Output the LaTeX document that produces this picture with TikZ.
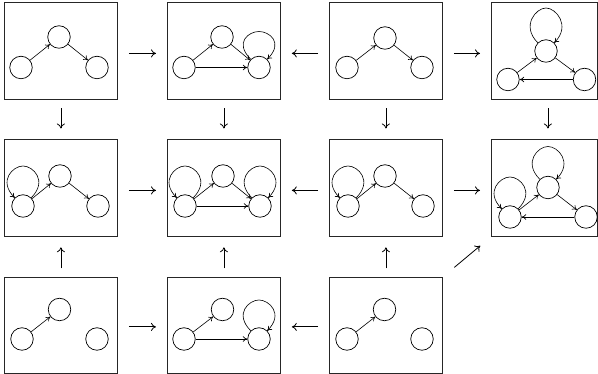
\documentclass[tikz,border=0pt]{standalone}
\usetikzlibrary{arrows.meta}
\tikzset{
  frame/.style={draw=black!85, line width=0.8pt, minimum width=113pt, minimum height=97pt, inner sep=0pt, anchor=north west},
  st/.style={circle, draw, line width=0.7pt, minimum size=22.5pt, inner sep=0pt},
  edge/.style={-{To[length=4.5pt,width=5.5pt]}, line width=0.6pt},
  big/.style={-{To[length=5pt,width=8pt]}, line width=0.8pt, shorten <=11pt, shorten >=11pt},
  bigv/.style={-{To[length=5pt,width=8pt]}, line width=0.8pt, shorten <=8.5pt, shorten >=10.5pt},
}
% loop ending on the right side (arrow at right); #2 = height of the top above the centre
\newcommand\selfright[2]{\draw[edge] (#1.135) .. controls +(-17,17) and +(-10,0) .. ([yshift=#2pt]#1.center) .. controls +(10,0) and +(17,17) .. (#1.45);}
% loop ending on the left side (arrow at left)
\newcommand\selfleft[2]{\draw[edge] (#1.45) .. controls +(17,17) and +(10,0) .. ([yshift=#2pt]#1.center) .. controls +(-10,0) and +(-17,17) .. (#1.135);}
\begin{document}
\begin{tikzpicture}[x=1pt,y=1pt]
\useasboundingbox (0,0) rectangle (598,374);
% ---------- row 1 ----------
\begin{scope}[shift={(4,372)}]
  \node[frame] (b11) at (0,0) {};
  \node[st] (L11) at (17,-65.5) {};
  \node[st] (T11) at (55,-35) {};
  \node[st] (R11) at (93,-65.5) {};
  \draw[edge] (L11) -- (T11);
  \draw[edge] (T11) -- (R11);
\end{scope}
\begin{scope}[shift={(167,372)}]
  \node[frame] (b12) at (0,0) {};
  \node[st] (L12) at (17,-65.5) {};
  \node[st] (T12) at (55,-35) {};
  \node[st] (R12) at (92,-65.5) {};
  \draw[edge] (L12) -- (T12);
  \draw[edge] (T12) -- (R12);
  \draw[edge] (L12) -- (R12);
  \selfright{R12}{36}
\end{scope}
\begin{scope}[shift={(329,372)}]
  \node[frame] (b13) at (0,0) {};
  \node[st] (L13) at (18,-65.5) {};
  \node[st] (T13) at (56,-36) {};
  \node[st] (R13) at (93,-65.5) {};
  \draw[edge] (L13) -- (T13);
  \draw[edge] (T13) -- (R13);
\end{scope}
\begin{scope}[shift={(491,372)}]
  \node[frame, minimum width=106pt] (b14) at (0,0) {};
  \node[st] (L14) at (17,-77.5) {};
  \node[st] (T14) at (55,-49) {};
  \node[st] (R14) at (93.5,-77.5) {};
  \draw[edge] (L14) -- (T14);
  \draw[edge] (T14) -- (R14);
  \draw[edge] (R14) -- (L14);
  \selfright{T14}{43}
\end{scope}
% ---------- row 2 ----------
\begin{scope}[shift={(4,235)}]
  \node[frame] (b21) at (0,0) {};
  \node[st] (L21) at (19,-67) {};
  \node[st] (T21) at (56,-37) {};
  \node[st] (R21) at (94,-67) {};
  \draw[edge] (L21) -- (T21);
  \draw[edge] (T21) -- (R21);
  \selfleft{L21}{40}
\end{scope}
\begin{scope}[shift={(167,235)}]
  \node[frame] (b22) at (0,0) {};
  \node[st] (L22) at (18,-67) {};
  \node[st] (T22) at (56,-37) {};
  \node[st] (R22) at (93,-67) {};
  \draw[edge] (L22) -- (T22);
  \draw[edge] (T22) -- (R22);
  \draw[edge] (L22) -- (R22);
  \selfleft{L22}{40}
  \selfright{R22}{40}
\end{scope}
\begin{scope}[shift={(329,235)}]
  \node[frame] (b23) at (0,0) {};
  \node[st] (L23) at (19,-67) {};
  \node[st] (T23) at (56,-37) {};
  \node[st] (R23) at (94,-67) {};
  \draw[edge] (L23) -- (T23);
  \draw[edge] (T23) -- (R23);
  \selfleft{L23}{40}
\end{scope}
\begin{scope}[shift={(491,235)}]
  \node[frame, minimum width=106pt] (b24) at (0,0) {};
  \node[st] (L24) at (19,-78) {};
  \node[st] (T24) at (57,-48.5) {};
  \node[st] (R24) at (95,-78) {};
  \draw[edge] (L24) -- (T24);
  \draw[edge] (T24) -- (R24);
  \draw[edge] (R24) -- (L24);
  \selfright{T24}{41}
  \selfleft{L24}{40}
\end{scope}
% ---------- row 3 ----------
\begin{scope}[shift={(4,97)}]
  \node[frame, minimum height=96pt] (b31) at (0,0) {};
  \node[st] (L31) at (18,-62) {};
  \node[st] (T31) at (55.5,-32.5) {};
  \node[st] (R31) at (93,-62) {};
  \draw[edge] (L31) -- (T31);
\end{scope}
\begin{scope}[shift={(167,97)}]
  \node[frame, minimum height=96pt] (b32) at (0,0) {};
  \node[st] (L32) at (17,-62) {};
  \node[st] (T32) at (55.5,-32.5) {};
  \node[st] (R32) at (92,-62) {};
  \draw[edge] (L32) -- (T32);
  \draw[edge] (L32) -- (R32);
  \selfright{R32}{39}
\end{scope}
\begin{scope}[shift={(329,97)}]
  \node[frame, minimum height=96pt] (b33) at (0,0) {};
  \node[st] (L33) at (18,-62) {};
  \node[st] (T33) at (55.5,-32.5) {};
  \node[st] (R33) at (93,-62) {};
  \draw[edge] (L33) -- (T33);
\end{scope}
% ---------- connectors between boxes ----------
\draw[big] ([yshift=-2.5pt]b11.east) -- ([yshift=-2.5pt]b12.west);
\draw[big] ([yshift=-2.5pt]b13.west) -- ([yshift=-2.5pt]b12.east);
\draw[big] ([yshift=-2.5pt]b13.east) -- ([yshift=-2.5pt]b14.west);
\draw[big] ([yshift=-2.5pt]b21.east) -- ([yshift=-2.5pt]b22.west);
\draw[big] ([yshift=-2.5pt]b23.west) -- ([yshift=-2.5pt]b22.east);
\draw[big] ([yshift=-2.5pt]b23.east) -- ([yshift=-2.5pt]b24.west);
\draw[big] ([yshift=-1.5pt]b31.east) -- ([yshift=-1.5pt]b32.west);
\draw[big] ([yshift=-1.5pt]b33.west) -- ([yshift=-1.5pt]b32.east);
\draw[bigv] (b11.south) -- (b21.north);
\draw[bigv] (b12.south) -- (b22.north);
\draw[bigv] (b13.south) -- (b23.north);
\draw[bigv] ([xshift=3.5pt]b14.south) -- ([xshift=3.5pt]b24.north);
\draw[bigv] (b31.north) -- (b21.south);
\draw[bigv] (b32.north) -- (b22.south);
\draw[bigv] (b33.north) -- (b23.south);
\draw[big, shorten <=15pt, shorten >=14pt] (b33.north east) -- (b24.south west);
\end{tikzpicture}
\end{document}
